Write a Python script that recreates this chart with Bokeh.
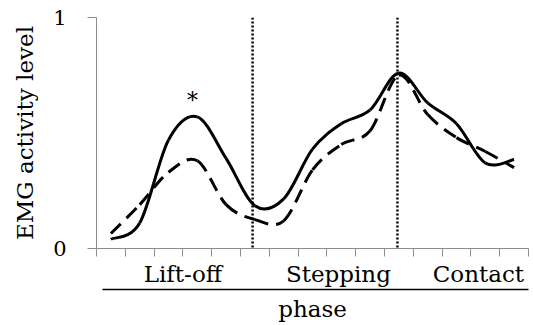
from bokeh.plotting import figure
from bokeh.models import (FixedTicker, LinearAxis, Span, Label)
from bokeh.embed import file_html
from bokeh.resources import INLINE

# ---- data ----
n_points = 15
solid_vals = [0.04, 0.11, 0.47, 0.57, 0.39, 0.185, 0.215, 0.43, 0.54, 0.60,
              0.76, 0.63, 0.54, 0.37, 0.385]
dashed_vals = [0.065, 0.19, 0.33, 0.38, 0.19, 0.125, 0.12, 0.34, 0.45, 0.51,
               0.75, 0.58, 0.48, 0.42, 0.35]
phase_labels = ["Lift-off", "Stepping", "Contact"]
phase_label_pos = [3.0, 8.4, 13.26]
phase_bounds = [5.42, 10.45]
y_ticks = [0, 1]
y_label = "EMG activity level"
x_label = "phase"
star_x, star_y = 3.33, 0.64

FONT = "DejaVu Serif"
AX_COL = "#8c8c8c"

p = figure(width=533, height=325, x_range=(0, n_points), y_range=(0, 1),
           min_border_left=96, min_border_right=5, min_border_top=17,
           min_border_bottom=77, output_backend="svg", toolbar_location=None,
           background_fill_color="white", border_fill_color="white")
p.outline_line_color = None
p.grid.visible = False

# y axis
ya = p.yaxis[0]
ya.ticker = FixedTicker(ticks=y_ticks)
ya.major_tick_out = 9
ya.major_tick_in = 0
ya.minor_tick_line_color = None
ya.axis_line_color = AX_COL
ya.major_tick_line_color = AX_COL
ya.major_label_text_font = FONT
ya.major_label_text_font_size = "21px"
ya.major_label_text_color = "black"
ya.major_label_standoff = 21
ya.axis_label = y_label
ya.axis_label_text_font = FONT
ya.axis_label_text_font_size = "23px"
ya.axis_label_text_font_style = "normal"
ya.axis_label_text_color = "black"
ya.axis_label_standoff = 12

# x axis 1: tick marks at category boundaries (no labels)
xa = p.xaxis[0]
boundary_ticks = list(range(n_points + 1))
xa.ticker = FixedTicker(ticks=boundary_ticks)
xa.major_label_overrides = {t: "" for t in boundary_ticks}
xa.major_tick_out = 8
xa.major_tick_in = 0
xa.minor_tick_line_color = None
xa.axis_line_color = AX_COL
xa.major_tick_line_color = AX_COL
xa.major_label_text_font_size = "2px"
xa.major_label_standoff = 0

# x axis 2: phase names
xa2 = LinearAxis(ticker=FixedTicker(ticks=phase_label_pos),
                 major_label_overrides={pos: lab for pos, lab in zip(phase_label_pos, phase_labels)})
xa2.axis_line_color = None
xa2.major_tick_line_color = None
xa2.minor_tick_line_color = None
xa2.major_tick_out = 0
xa2.major_tick_in = 0
xa2.major_label_text_font = FONT
xa2.major_label_text_font_size = "23px"
xa2.major_label_text_color = "black"
xa2.major_label_standoff = 4
p.add_layout(xa2, "below")

# x axis 3: underline + "phase"
xa3 = LinearAxis(ticker=FixedTicker(ticks=[]), bounds=(0.21, n_points))
xa3.axis_line_color = "black"
xa3.axis_line_width = 1.5
xa3.major_tick_line_color = None
xa3.minor_tick_line_color = None
xa3.major_label_standoff = 0
xa3.axis_label = x_label
xa3.axis_label_text_font = FONT
xa3.axis_label_text_font_size = "23px"
xa3.axis_label_text_font_style = "normal"
xa3.axis_label_text_color = "black"
xa3.axis_label_standoff = 6
p.add_layout(xa3, "below")

# phase boundaries
for b in phase_bounds:
    p.add_layout(Span(location=b, dimension="height", line_color="black",
                      line_width=2.5, line_dash="2 2"))


def smooth_segments(vals):
    xs = [i + 0.5 for i in range(len(vals))]
    pts = list(zip(xs, vals))
    seg = dict(x0=[], y0=[], x1=[], y1=[], cx0=[], cy0=[], cx1=[], cy1=[])
    for i in range(len(pts) - 1):
        p0 = pts[i - 1] if i > 0 else pts[i]
        p1 = pts[i]
        p2 = pts[i + 1]
        p3 = pts[i + 2] if i + 2 < len(pts) else pts[i + 1]
        seg["x0"].append(p1[0]); seg["y0"].append(p1[1])
        seg["x1"].append(p2[0]); seg["y1"].append(p2[1])
        seg["cx0"].append(p1[0] + (p2[0] - p0[0]) / 6)
        seg["cy0"].append(p1[1] + (p2[1] - p0[1]) / 6)
        seg["cx1"].append(p2[0] - (p3[0] - p1[0]) / 6)
        seg["cy1"].append(p2[1] - (p3[1] - p1[1]) / 6)
    return seg

d = smooth_segments(dashed_vals)
p.bezier(x0=d["x0"], y0=d["y0"], x1=d["x1"], y1=d["y1"], cx0=d["cx0"], cy0=d["cy0"],
         cx1=d["cx1"], cy1=d["cy1"], line_color="black", line_width=3,
         line_dash="14 8")
s = smooth_segments(solid_vals)
p.bezier(x0=s["x0"], y0=s["y0"], x1=s["x1"], y1=s["y1"], cx0=s["cx0"], cy0=s["cy0"],
         cx1=s["cx1"], cy1=s["cy1"], line_color="black", line_width=3)

p.add_layout(Label(x=star_x, y=star_y, text="*", text_align="center",
                   text_baseline="middle", text_font=FONT, text_font_size="22px",
                   text_color="black"))

open("out.html", "w").write(file_html(p, INLINE))
